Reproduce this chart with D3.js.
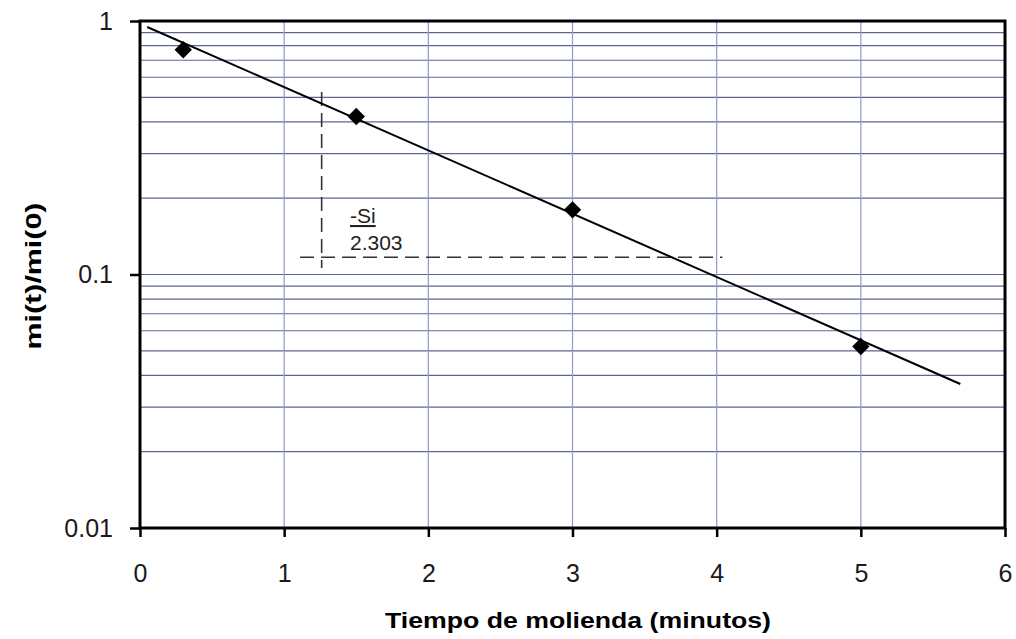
<!DOCTYPE html>
<html>
<head>
<meta charset="utf-8">
<script src="https://cdn.jsdelivr.net/npm/d3@7"></script>
<style>
  body { margin: 0; background: #fff; }
  text { font-family: "Liberation Sans", Arial, Helvetica, sans-serif; }
</style>
</head>
<body>
<svg id="chart" width="1016" height="639"></svg>
<script>
// data
var tiempo = [0.3, 1.5, 3, 5];
var ratio = [0.77, 0.42, 0.18, 0.052];
var fitX = [0.05, 5.69];
var fitY = [0.947, 0.037];
var xTicks = [0, 1, 2, 3, 4, 5, 6];
var yTicks = [0.01, 0.1, 1];
var yTickLabels = ["0.01", "0.1", "1"];
// dashed construction lines (slope triangle)
var dashV = [[1.26, 0.525], [1.26, 0.106]];
var dashH = [[1.11, 0.117], [4.04, 0.117]];

var svg = d3.select("#chart");
var margin = { left: 140, right: 11, top: 21, bottom: 111 };
var width = 1016 - margin.left - margin.right,
    height = 639 - margin.top - margin.bottom;

var g = svg.append("g").attr("transform", "translate(" + margin.left + "," + margin.top + ")");

var x = d3.scaleLinear().domain([0, 6]).range([0, width]);
var y = d3.scaleLog().domain([0.01, 1]).range([height, 0]);

// horizontal grid (minor log lines)
var minor = [];
[0.01, 0.1].forEach(function(d) {
  for (var k = 2; k <= 9; k++) minor.push(d * k);
});
minor.push(0.1);
g.append("g").selectAll("line").data(minor).enter().append("line")
  .attr("x1", 0).attr("x2", width)
  .attr("y1", function(d) { return y(d); }).attr("y2", function(d) { return y(d); })
  .attr("stroke", "#5e6690").attr("stroke-width", 1.2);

// vertical grid
g.append("g").selectAll("line").data(xTicks.slice(1, -1)).enter().append("line")
  .attr("y1", 0).attr("y2", height)
  .attr("x1", function(d) { return x(d); }).attr("x2", function(d) { return x(d); })
  .attr("stroke", "#8e9ac8").attr("stroke-width", 1.2);

// axes
var xAxis = g.append("g").attr("transform", "translate(0," + height + ")")
  .call(d3.axisBottom(x).tickValues(xTicks).tickFormat(d3.format("d")).tickSize(9).tickPadding(27));
var yAxis = g.append("g")
  .call(d3.axisLeft(y).tickValues(yTicks).tickFormat(function(d, i) { return yTickLabels[i]; }).tickSize(10).tickPadding(17));
[xAxis, yAxis].forEach(function(a) {
  a.select(".domain").remove();
  a.selectAll("line").attr("stroke", "#000").attr("stroke-width", 2.5);
  a.selectAll("text").attr("font-size", 25).attr("fill", "#1a1a1a");
});
xAxis.selectAll("text").attr("dy", "0.71em");

// frame
g.append("rect").attr("x", 0).attr("y", 0).attr("width", width).attr("height", height)
  .attr("fill", "none").attr("stroke", "#000").attr("stroke-width", 3);

// dashed lines
var line = d3.line().x(function(d) { return x(d[0]); }).y(function(d) { return y(d[1]); });
[dashV, dashH].forEach(function(p) {
  g.append("path").attr("d", line(p)).attr("fill", "none")
    .attr("stroke", "#333").attr("stroke-width", 1.6).attr("stroke-dasharray", "14,7");
});

// fit line
g.append("path").attr("d", line(d3.zip(fitX, fitY))).attr("fill", "none")
  .attr("stroke", "#000").attr("stroke-width", 2);

// markers
g.append("g").selectAll("path").data(d3.zip(tiempo, ratio)).enter().append("path")
  .attr("d", d3.symbol(d3.symbolSquare).size(150))
  .attr("transform", function(d) { return "translate(" + x(d[0]) + "," + y(d[1]) + ") rotate(45)"; })
  .attr("fill", "#000");

// slope annotation
svg.append("text").attr("x", 350).attr("y", 223).text("-Si")
  .attr("font-size", 21).attr("fill", "#222").attr("text-decoration", "underline");
svg.append("text").attr("x", 350).attr("y", 250).text("2.303")
  .attr("font-size", 21).attr("fill", "#222");

// axis titles
svg.append("text").attr("x", 578).attr("y", 628)
  .attr("text-anchor", "middle").attr("font-size", 22).attr("font-weight", "bold")
  .attr("textLength", 386).attr("lengthAdjust", "spacingAndGlyphs")
  .text("Tiempo de molienda (minutos)");
svg.append("text").attr("transform", "translate(41,276) rotate(-90)")
  .attr("text-anchor", "middle").attr("font-size", 22).attr("font-weight", "bold")
  .attr("textLength", 147).attr("lengthAdjust", "spacingAndGlyphs")
  .text("mi(t)/mi(0)");
</script>
</body>
</html>
